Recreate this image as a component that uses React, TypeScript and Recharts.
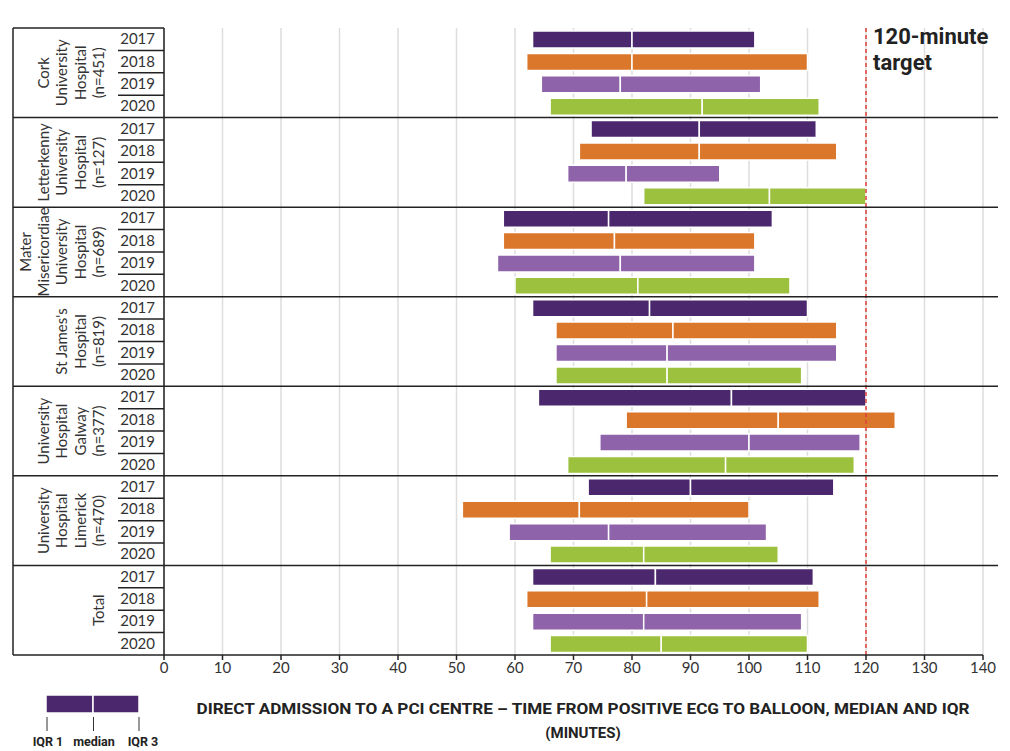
import { BarChart, Bar, XAxis, YAxis, CartesianGrid, ReferenceLine, Cell } from 'recharts'

// hospital group labels (one entry per line of the rotated label)
const hospitals = [
  ['Cork', 'University', 'Hospital', '(n=451)'],
  ['Letterkenny', 'University', 'Hospital', '(n=127)'],
  ['Mater', 'Misericordiae', 'University', 'Hospital', '(n=689)'],
  ["St James's", 'Hospital', '(n=819)'],
  ['University', 'Hospital', 'Galway', '(n=377)'],
  ['University', 'Hospital', 'Limerick', '(n=470)'],
  ['Total'],
]
const years = ['2017', '2018', '2019', '2020']
const yearColors = ['#4B286D', '#DA772A', '#8E63AA', '#9BC13F']

// minutes, 4 rows (2017-2020) per hospital
const iqr1 = [63, 62, 64.5, 66, 73, 71, 69, 82, 58, 58, 57, 60, 63, 67, 67, 67, 64, 79, 74.5, 69, 72.5, 51, 59, 66, 63, 62, 63, 66]
const median = [80, 80, 78, 92, 91.5, 91.5, 79, 103.5, 76, 77, 78, 81, 83, 87, 86, 86, 97, 105, 100, 96, 90, 71, 76, 82, 84, 82.5, 82, 85]
const iqr3 = [101, 110, 102, 112, 111.5, 115, 95, 120, 104, 101, 101, 107, 110, 115, 115, 109, 120, 125, 119, 118, 114.5, 100, 103, 105, 111, 112, 109, 110]

const xTicks = [0, 10, 20, 30, 40, 50, 60, 70, 80, 90, 100, 110, 120, 130, 140]
const target = 120

const W = 1010
const H = 751
const TOP = 28
const BOTTOM = 655
const BAND = (BOTTOM - TOP) / iqr1.length
const FONT = 'Lato, "Open Sans", sans-serif'

const chartData = iqr1.map((q1, i) => ({
  id: `${i}`,
  year: years[i % 4],
  q1,
  low: median[i] - q1,
  high: iqr3[i] - median[i],
}))

function RowTick(props: any) {
  const { y, index } = props
  const g = Math.floor(index / 4)
  const k = index % 4
  const top = y - BAND / 2
  const lines = hospitals[g]
  const cy = top + 2 * BAND
  return (
    <g>
      <text x={155} y={y + 5} textAnchor="end" fontSize={15} fill="#333" fontFamily={FONT}>
        {years[k]}
      </text>
      {k === 0 ? (
        <line x1={13} x2={g === 0 ? 164 : 998} y1={top} y2={top} stroke="#222" strokeWidth={1.5} />
      ) : (
        <line x1={118} x2={164} y1={top} y2={top} stroke="#222" strokeWidth={1.5} />
      )}
      {k === 0 &&
        lines.map((t, j) => {
          const cx = 98 - (lines.length - 1 - j) * 18.3
          return (
            <text
              key={j}
              x={cx}
              y={cy}
              transform={`rotate(-90 ${cx} ${cy})`}
              textAnchor="middle"
              dominantBaseline="central"
              fontSize={15}
              fill="#333"
              fontFamily={FONT}
            >
              {t}
            </text>
          )
        })}
      {index === 0 && <line x1={13} x2={13} y1={TOP} y2={BOTTOM} stroke="#222" strokeWidth={1.5} />}
      {index === iqr1.length - 1 && (
        <line x1={13} x2={164} y1={BOTTOM} y2={BOTTOM} stroke="#222" strokeWidth={1.5} />
      )}
    </g>
  )
}

function TargetLabel(props: any) {
  const x = props.viewBox.x + 7
  return (
    <g fontFamily="Roboto, sans-serif" fontWeight={700} fontSize={22} fill="#222">
      <text x={x} y={44}>120-minute</text>
      <text x={x} y={70}>target</text>
    </g>
  )
}

export default function App() {
  return (
    <div style={{ position: 'absolute', left: 0, top: 0, width: W, height: H, background: '#fff' }}>
      <BarChart
        width={W}
        height={H}
        data={chartData}
        layout="vertical"
        barSize={17}
        margin={{ top: TOP, right: 27, bottom: 66, left: 0 }}
      >
        <CartesianGrid horizontal={false} stroke="#ddd" strokeWidth={1.5} />
        <XAxis
          type="number"
          domain={[0, 140]}
          ticks={xTicks}
          height={30}
          tickSize={5}
          tick={{ fontSize: 15, fill: '#333', fontFamily: FONT }}
          axisLine={{ stroke: '#222', strokeWidth: 1.5 }}
          tickLine={{ stroke: '#222', strokeWidth: 1.5 }}
        />
        <YAxis
          type="category"
          dataKey="id"
          width={164}
          tickLine={false}
          interval={0}
          axisLine={{ stroke: '#222', strokeWidth: 1.5 }}
          tick={<RowTick />}
        />
        <Bar dataKey="q1" stackId="a" fill="transparent" isAnimationActive={false} />
        <Bar dataKey="low" stackId="a" stroke="#fff" strokeWidth={1.5} isAnimationActive={false}>
          {chartData.map((_, i) => (
            <Cell key={i} fill={yearColors[i % 4]} />
          ))}
        </Bar>
        <Bar dataKey="high" stackId="a" stroke="#fff" strokeWidth={1.5} isAnimationActive={false}>
          {chartData.map((_, i) => (
            <Cell key={i} fill={yearColors[i % 4]} />
          ))}
        </Bar>
        <ReferenceLine
          x={target}
          stroke="#E0403A"
          strokeWidth={1.5}
          strokeDasharray="4 3"
          label={<TargetLabel />}
        />
      </BarChart>
      <svg
        width={W}
        height={H}
        style={{ position: 'absolute', left: 0, top: 0, pointerEvents: 'none' }}
      >
        <rect x={46} y={695} width={47} height={18} fill={yearColors[0]} stroke="#fff" strokeWidth={1.5} />
        <rect x={93} y={695} width={46} height={18} fill={yearColors[0]} stroke="#fff" strokeWidth={1.5} />
        <line x1={47} x2={47} y1={717} y2={731} stroke="#333" />
        <line x1={93.5} x2={93.5} y1={717} y2={731} stroke="#333" />
        <line x1={139} x2={139} y1={717} y2={731} stroke="#333" />
        <g fontFamily="Roboto, sans-serif" fontWeight={700} fontSize={12.5} fill="#222" textAnchor="middle">
          <text x={48} y={746}>IQR 1</text>
          <text x={94} y={746}>median</text>
          <text x={143} y={746}>IQR 3</text>
        </g>
        <g fontFamily="Roboto, sans-serif" fontWeight={700} fontSize={15} fill="#222" textAnchor="middle">
          <text x={583} y={714} textLength={773} lengthAdjust="spacingAndGlyphs">
            DIRECT ADMISSION TO A PCI CENTRE – TIME FROM POSITIVE ECG TO BALLOON, MEDIAN AND IQR
          </text>
          <text x={583} y={738}>(MINUTES)</text>
        </g>
      </svg>
    </div>
  )
}
